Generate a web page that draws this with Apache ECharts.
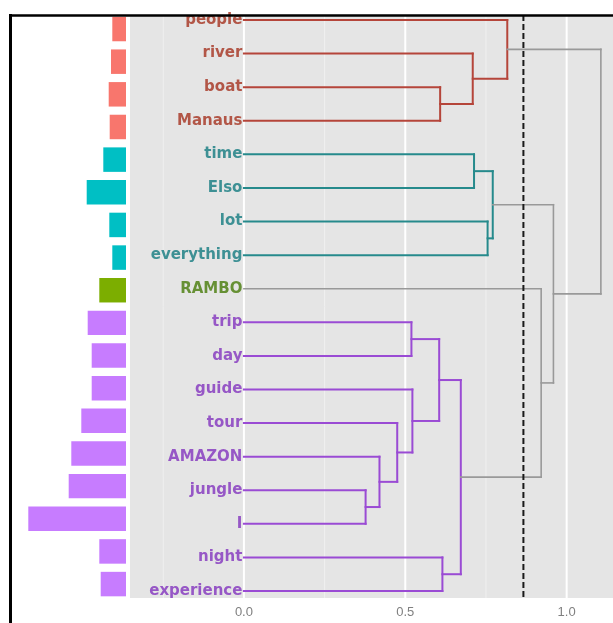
<!DOCTYPE html>
<html>
<head>
<meta charset="utf-8">
<script src="https://cdn.jsdelivr.net/npm/echarts@6/dist/echarts.min.js"></script>
<style>
html,body{margin:0;padding:0;background:#fff;}
#chart{width:613px;height:623px;}
</style>
</head>
<body>
<div id="chart"></div>
<script>
// ---- data ----
var leaves = ['people','river','boat','Manaus','time','Elso','lot','everything','RAMBO',
  'trip','day','guide','tour','AMAZON','jungle','I','night','experience'];
var leafCluster = [0,0,0,0,1,1,1,1,2,3,3,3,3,3,3,3,3,3];
var barValues = [13.7,15,17.3,16.3,22.7,39.3,16.7,13.7,26.7,38.3,34.3,34.3,44.7,54.7,57.3,97.7,26.7,25.3];
// merges: node ids 0..17 are leaves, 18+k is merge k
var mergeLeft   = [2, 1, 0, 4, 6, 21, 9, 14, 13, 12, 11, 24, 16, 29, 8, 23, 20];
var mergeRight  = [3, 18, 19, 5, 7, 22, 10, 15, 25, 26, 27, 28, 17, 30, 31, 32, 33];
var mergeHeight = [0.608,0.709,0.816,0.713,0.755,0.771,0.519,0.377,0.420,0.475,0.522,0.605,0.615,0.672,0.921,0.959,1.106];
var mergeCluster= [0,0,0,1,1,1,3,3,3,3,3,3,3,3,-1,-1,-1];
var cutHeight = 0.866;
var xTickLabels = [0, 0.5, 1.0];
var minorGrid = [-0.25, 0.25, 0.75];
var majorGrid = [0, 0.5, 1.0];

// ---- styles ----
var barColors   = ['#F8766D','#00BFC4','#7CAE00','#C77CFF'];
var lineColors  = ['#b5453a','#268a8c','#6f9a1a','#9a4bd4'];
var labelColors = ['#a5321f','#137a80','#467a08','#8233be'];
var greyLine = '#999999';

// ---- build segments ----
var nodeX = [], nodeY = [];
for (var i = 0; i < leaves.length; i++) { nodeX.push(0); nodeY.push(i); }
var segments = [];
for (var k = 0; k < mergeHeight.length; k++) {
  var a = mergeLeft[k], b = mergeRight[k], h = mergeHeight[k];
  var c = mergeCluster[k];
  segments.push([h, nodeY[a], h, nodeY[b], c]);
  segments.push([nodeX[a], nodeY[a], h, nodeY[a], c]);
  segments.push([nodeX[b], nodeY[b], h, nodeY[b], c]);
  nodeX.push(h); nodeY.push((nodeY[a] + nodeY[b]) / 2);
}

var chart = echarts.init(document.getElementById('chart'), null, {renderer:'canvas'});

var gridSeriesData = minorGrid.map(function(v){return [v,0];}).concat(majorGrid.map(function(v){return [v,1];}));

var option = {
  animation: false,
  backgroundColor: '#ffffff',
  grid: [
    {left: 10, right: 487, top: 12.7, height: 587.7, show: false},
    {left: 130, right: 0, top: 15, height: 583, show: true, backgroundColor: '#e5e5e5', borderWidth: 0}
  ],
  xAxis: [
    {gridIndex: 0, type: 'value', inverse: true, min: 0, max: 116, show: false},
    {gridIndex: 1, type: 'value', min: -0.353, max: 1.1436,
      splitLine: {show: false}, axisLine: {show: false}, axisTick: {show: false},
      axisLabel: {customValues: xTickLabels, margin: 8, color: '#808080', fontSize: 13,
        fontFamily: 'Liberation Sans', formatter: function(v){return v.toFixed(1);}}}
  ],
  yAxis: [
    {gridIndex: 0, type: 'value', inverse: true, min: -0.5, max: 17.5, show: false},
    {gridIndex: 1, type: 'value', inverse: true, min: -0.149, max: 17.208, show: false}
  ],
  series: [
    {
      type: 'custom', xAxisIndex: 0, yAxisIndex: 0,
      data: barValues.map(function(v, i){ return [v, i, leafCluster[i]]; }),
      renderItem: function(params, api) {
        var p1 = api.coord([api.value(0), api.value(1)]);
        var p0 = api.coord([0, api.value(1)]);
        var hh = api.size([0, 0.75])[1];
        return {type: 'rect', shape: {x: p1[0], y: p0[1] - hh/2, width: p0[0] - p1[0], height: hh},
          style: {fill: barColors[api.value(2)]}};
      }
    },
    {
      type: 'custom', xAxisIndex: 1, yAxisIndex: 1, z: 1,
      data: gridSeriesData,
      renderItem: function(params, api) {
        var cs = params.coordSys;
        var p = api.coord([api.value(0), 0]);
        var major = api.value(1) === 1;
        return {type: 'line', shape: {x1: p[0], y1: cs.y, x2: p[0], y2: cs.y + cs.height},
          style: {stroke: major ? '#ffffff' : '#f0f0f0', lineWidth: major ? 2 : 1}};
      }
    },
    {
      type: 'custom', xAxisIndex: 1, yAxisIndex: 1, z: 3,
      data: segments,
      renderItem: function(params, api) {
        var p1 = api.coord([api.value(0), api.value(1)]);
        var p2 = api.coord([api.value(2), api.value(3)]);
        var c = api.value(4);
        return {type: 'line', shape: {x1: p1[0], y1: p1[1], x2: p2[0], y2: p2[1]},
          style: {stroke: c < 0 ? greyLine : lineColors[c], lineWidth: c < 0 ? 1.6 : 2, lineCap: 'square'}};
      }
    },
    {
      type: 'custom', xAxisIndex: 1, yAxisIndex: 1, z: 4,
      data: [[cutHeight]],
      renderItem: function(params, api) {
        var cs = params.coordSys;
        var p = api.coord([api.value(0), 0]);
        return {type: 'line', shape: {x1: p[0], y1: cs.y, x2: p[0], y2: cs.y + cs.height},
          style: {stroke: '#1a1a1a', lineWidth: 2, lineDash: [6, 3]}};
      }
    },
    {
      type: 'scatter', xAxisIndex: 1, yAxisIndex: 1, z: 5,
      symbolSize: 1, itemStyle: {color: 'rgba(0,0,0,0)'},
      data: leaves.map(function(name, i){
        return {value: [0, i], name: name,
          label: {color: labelColors[leafCluster[i]]}};
      }),
      label: {show: true, position: 'left', distance: 1, formatter: '{b}',
        fontFamily: 'DejaVu Sans', fontWeight: 'bold', fontSize: 15}
    }
  ],
  graphic: [
    {type: 'line', shape: {x1: 10.5, y1: 14, x2: 10.5, y2: 623}, style: {stroke: '#000', lineWidth: 3}, z: 100},
    {type: 'line', shape: {x1: 9, y1: 15.5, x2: 613, y2: 15.5}, style: {stroke: '#000', lineWidth: 2.5}, z: 100}
  ]
};
chart.setOption(option);
</script>
</body>
</html>
